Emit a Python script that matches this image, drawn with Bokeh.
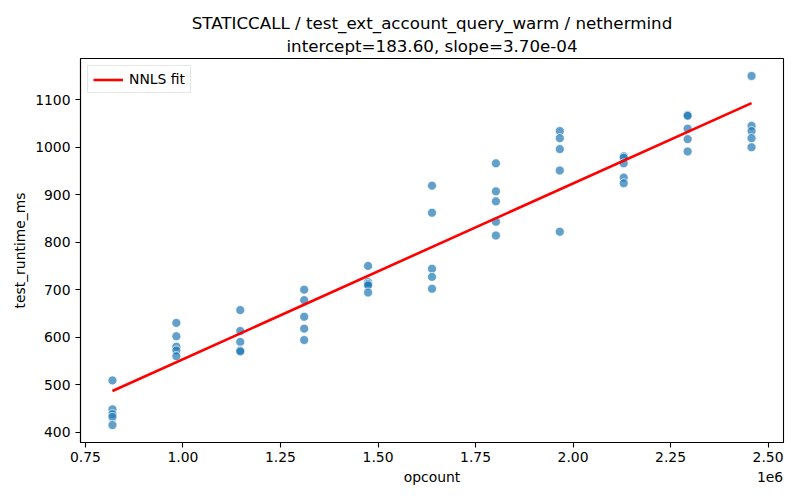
from bokeh.plotting import figure
from bokeh.models import Range1d, FixedTicker, Title, Legend, LegendItem, LinearAxis
from bokeh.embed import file_html
from bokeh.resources import INLINE

# ---- data ----
opcount_levels = [819200, 983040, 1146880, 1310720, 1474560, 1638400,
                  1802240, 1966080, 2129920, 2293760, 2457600]
runtime_ms = [
    [509, 448, 438, 432, 415],
    [630, 602, 580, 572, 560],
    [657, 613, 590, 572, 570],
    [700, 678, 643, 618, 594],
    [750, 716, 712, 709, 694],
    [919, 862, 744, 727, 702],
    [966, 907, 886, 843, 814],
    [1034, 1019, 996, 951, 822],
    [981, 978, 966, 936, 924],
    [1068, 1066, 1039, 1017, 991],
    [1150, 1045, 1034, 1019, 1000],
]
intercept = 183.60
slope = 3.70e-4
x_tick_values = [750000, 1000000, 1250000, 1500000, 1750000, 2000000, 2250000, 2500000]
x_tick_labels = ["0.75", "1.00", "1.25", "1.50", "1.75", "2.00", "2.25", "2.50"]
y_tick_values = [400, 500, 600, 700, 800, 900, 1000, 1100]

xs = []
ys = []
for xv, vals in zip(opcount_levels, runtime_ms):
    for v in vals:
        xs.append(xv)
        ys.append(v)

fit_x = [min(opcount_levels), max(opcount_levels)]
fit_y = [intercept + slope * x for x in fit_x]

xmin, xmax = min(xs), max(xs)
ymin, ymax = min(ys), max(ys)
mx = (xmax - xmin) * 0.05
my = (ymax - ymin) * 0.05
x0, x1 = xmin - mx, xmax + mx

FONT = "DejaVu Sans"
FRAME_W, FRAME_H = 703, 384

p = figure(width=800, height=500, output_backend="svg", toolbar_location=None,
           x_range=Range1d(x0, x1), y_range=Range1d(ymin - my, ymax + my),
           min_border_left=80, min_border_right=17, min_border_top=58, min_border_bottom=58)
p.frame_width = FRAME_W
p.frame_height = FRAME_H

p.title.text = "STATICCALL / test_ext_account_query_warm / nethermind"
p.title.align = "center"
p.title.text_font = FONT
p.title.text_font_size = "16.7px"
p.title.text_font_style = "normal"
p.title.text_color = "black"
p.title.standoff = -5
p.add_layout(Title(text="intercept=%.2f, slope=%.2e" % (intercept, slope),
                   align="center", text_font=FONT, text_font_size="16.7px",
                   text_font_style="normal", text_color="black", standoff=6), "above")

p.xgrid.visible = False
p.ygrid.visible = False
p.outline_line_color = "black"
p.outline_line_width = 1.1
p.background_fill_color = "white"

def style_axis(ax):
    ax.axis_line_color = "black"
    ax.axis_line_width = 1.1
    ax.major_tick_line_color = "black"
    ax.major_tick_line_width = 1.1
    ax.major_tick_out = 5
    ax.major_tick_in = 0
    ax.minor_tick_line_color = None
    ax.major_label_text_font = FONT
    ax.major_label_text_font_size = "13.9px"
    ax.major_label_text_color = "black"
    ax.axis_label_text_font = FONT
    ax.axis_label_text_font_size = "13.9px"
    ax.axis_label_text_font_style = "normal"
    ax.axis_label_text_color = "black"

style_axis(p.xaxis[0])
style_axis(p.yaxis[0])

p.xaxis[0].ticker = FixedTicker(ticks=x_tick_values)
p.xaxis[0].major_label_overrides = {t: l for t, l in zip(x_tick_values, x_tick_labels)}
p.xaxis[0].major_label_standoff = 4
p.yaxis.ticker = FixedTicker(ticks=y_tick_values)
p.yaxis.axis_label = "test_runtime_ms"
p.yaxis.major_label_standoff = 5
p.yaxis.axis_label_standoff = 4

# second row under the tick labels: axis title centred, offset text "1e6" at right
mid = (x0 + x1) / 2
exp_pos = x1 - 13.5 * (x1 - x0) / FRAME_W
ax2 = LinearAxis(ticker=FixedTicker(ticks=[mid, exp_pos]),
                 major_label_overrides={mid: "opcount", exp_pos: "1e6"})
style_axis(ax2)
ax2.axis_line_color = None
ax2.major_tick_line_color = None
ax2.major_tick_out = 0
ax2.major_label_standoff = 4
p.add_layout(ax2, "below")

p.scatter(xs, ys, size=9, fill_color="#1f77b4", fill_alpha=0.7,
          line_color="white", line_width=0.8, line_alpha=0.9)
fit = p.line(fit_x, fit_y, line_color="red", line_width=2.6)

legend = Legend(items=[LegendItem(label="NNLS fit", renderers=[fit])],
                location="top_left")
legend.margin = 7
legend.padding = 5
legend.spacing = 0
legend.glyph_width = 30
legend.glyph_height = 15
legend.label_standoff = 6
legend.label_height = 15
legend.label_text_font = FONT
legend.label_text_font_size = "13.9px"
legend.label_text_color = "black"
legend.border_line_color = "#cccccc"
legend.border_line_width = 1
legend.background_fill_alpha = 0.8
p.add_layout(legend, "center")

open("out.html", "w").write(file_html(p, INLINE))
